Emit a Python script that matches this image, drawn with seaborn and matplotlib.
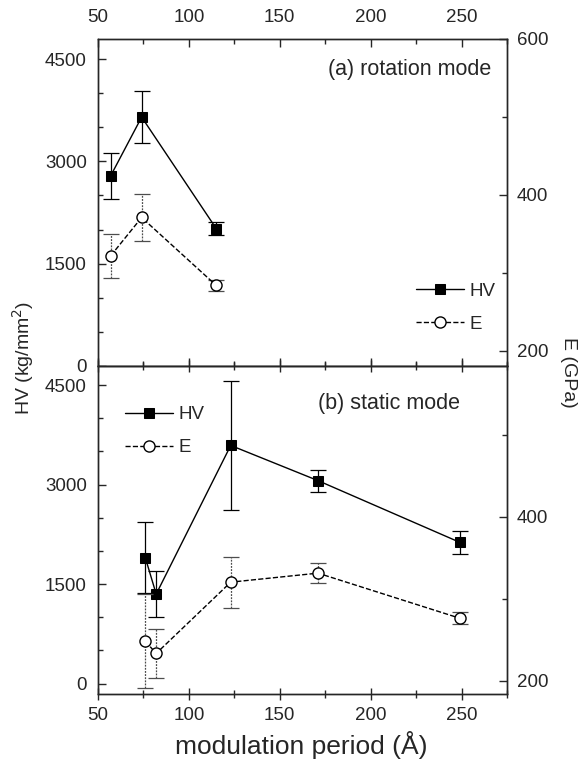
import matplotlib
matplotlib.use("Agg")
from matplotlib import pyplot as plt
from matplotlib.ticker import MultipleLocator, FixedLocator
import numpy as np
import pandas as pd
import seaborn as sns

# (a) rotation mode
period_a = [57, 74, 115]
hv_a = [2790, 3650, 2015]
hv_a_err = [340, 380, 100]
e_a = [322, 371, 284]
e_a_err = [28, 30, 7]

# (b) static mode
period_b = [76, 82, 123, 171, 249]
hv_b = [1900, 1350, 3590, 3060, 2130]
hv_b_err = [530, 345, 975, 165, 170]
e_b = [248, 233, 320, 331, 276]
e_b_err = [57, 30, 31, 12, 7]

sns.set_style("ticks")
plt.rcParams['font.family'] = ['Liberation Sans', 'DejaVu Sans']
plt.rcParams['axes.linewidth'] = 1.0

fig = plt.figure(figsize=(5.88, 7.75), dpi=100)
ax_a = fig.add_axes([0.1667, 0.528, 0.6956, 0.422])
ax_b = fig.add_axes([0.1667, 0.105, 0.6956, 0.423])


def panel(ax, x, hv, hv_err, e, e_err, ylim, elim, eticks, text, text_pos, leg_loc, leg_anchor):
    ax2 = ax.twinx()
    ax.errorbar(x, hv, yerr=hv_err, fmt='none', ecolor='black', elinewidth=0.9,
                capsize=6, capthick=0.9, zorder=2)
    sns.lineplot(x=x, y=hv, ax=ax, color='black', marker='s', markersize=7.5,
                 markeredgecolor='black', linewidth=1.0, label='HV', legend=False, zorder=3)
    eb = ax2.errorbar(x, e, yerr=e_err, fmt='none', ecolor='0.3', elinewidth=0.9,
                      capsize=6, capthick=0.9, zorder=2)
    for lc in eb[2]:
        lc.set_linestyle((0, (1.5, 1)))
    sns.lineplot(x=x, y=e, ax=ax2, color='black', marker='o', markersize=8,
                 markerfacecolor='white', markeredgecolor='black', markeredgewidth=1.0,
                 linewidth=1.0, label='E', legend=False, zorder=3)
    ax2.lines[-1].set_linestyle('--')

    ax.set_xlim(50, 275)
    ax.set_ylim(*ylim)
    ax2.set_ylim(*elim)
    ax.xaxis.set_major_locator(FixedLocator([50, 100, 150, 200, 250]))
    ax.xaxis.set_minor_locator(MultipleLocator(25))
    ax.yaxis.set_major_locator(FixedLocator([0, 1500, 3000, 4500]))
    ax.yaxis.set_minor_locator(MultipleLocator(500))
    ax2.yaxis.set_major_locator(FixedLocator(eticks))
    ax2.yaxis.set_minor_locator(MultipleLocator(100))
    ax.set_xlabel('')
    ax.set_ylabel('')
    ax2.set_ylabel('')
    ax.tick_params(axis='y', which='both', direction='in', labelsize=13.5, left=True, pad=8)
    ax.tick_params(axis='y', which='major', length=6, width=1.0)
    ax.tick_params(axis='y', which='minor', length=3.5, width=1.0)
    ax2.tick_params(axis='y', which='both', direction='in', labelsize=13.5, right=True, pad=7)
    ax2.tick_params(axis='y', which='major', length=6, width=1.0)
    ax2.tick_params(axis='y', which='minor', length=3.5, width=1.0)
    for sp in ax2.spines.values():
        sp.set_linewidth(1.0)

    ax2.text(text_pos[0], text_pos[1], text, transform=ax2.transAxes,
             ha='right', va='center', fontsize=15.5)

    h1, l1 = ax.get_legend_handles_labels()
    h2, l2 = ax2.get_legend_handles_labels()
    ax2.legend(h1 + h2, l1 + l2, loc=leg_loc, bbox_to_anchor=leg_anchor,
               frameon=False, fontsize=13.5, handlelength=2.6, labelspacing=0.85,
               handletextpad=0.25)
    return ax2


panel(ax_a, period_a, hv_a, hv_a_err, e_a, e_a_err, (0, 4800), (181, 600),
      [200, 400, 600], '(a) rotation mode', (0.961, 0.905),
      'center right', (1.012, 0.178))
panel(ax_b, period_b, hv_b, hv_b_err, e_b, e_b_err, (-150, 4790), (184, 584),
      [200, 400], '(b) static mode', (0.886, 0.885),
      'center left', (0.024, 0.80))

ax_a.tick_params(axis='x', which='both', direction='in', top=True, bottom=True,
                 labeltop=True, labelbottom=False, labelsize=13.5, pad=9)
ax_a.tick_params(axis='x', which='major', length=6, width=1.0)
ax_a.tick_params(axis='x', which='minor', length=3.5, width=1.0)
ax_b.tick_params(axis='x', which='both', direction='inout', top=True, bottom=True,
                 labeltop=False, labelbottom=True, labelsize=13.5, pad=5)
ax_b.tick_params(axis='x', which='major', length=9, width=1.0)
ax_b.tick_params(axis='x', which='minor', length=6, width=1.0)

fig.text(0.040, 0.538, 'HV (kg/mm$^2$)', rotation=90, ha='center', va='center', fontsize=14)
fig.text(0.966, 0.52, 'E (GPa)', rotation=270, ha='center', va='center', fontsize=14)
fig.text(0.512, 0.039, 'modulation period (Å)', ha='center', va='center', fontsize=19)

fig.savefig('out.png', dpi=100)
